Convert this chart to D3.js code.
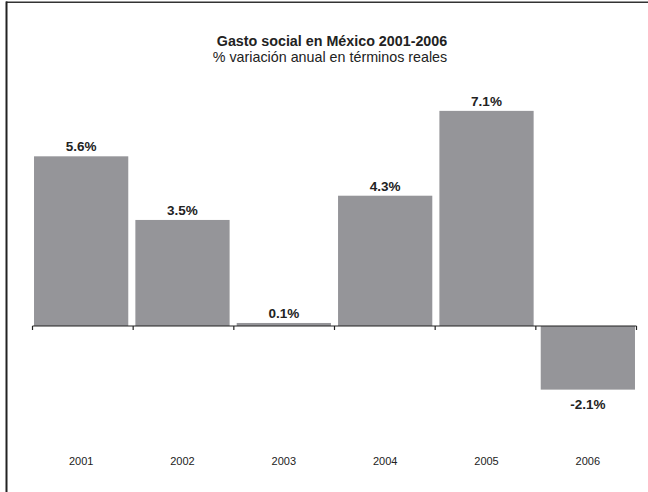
<!DOCTYPE html>
<html>
<head>
  <meta charset="utf-8">
  <script src="https://cdn.jsdelivr.net/npm/d3@7"></script>
  <style>
    body { margin: 0; background: #fff; }
    text { font-family: "Liberation Sans", Arial, sans-serif; fill: #222; }
  </style>
</head>
<body>
  <svg id="chart" width="648" height="492"></svg>
  <script>
    const years = ["2001", "2002", "2003", "2004", "2005", "2006"]
    const values = [5.6, 3.5, 0.1, 4.3, 7.1, -2.1]
    const labels = ["5.6%", "3.5%", "0.1%", "4.3%", "7.1%", "-2.1%"]

    const svg = d3.select("#chart")

    // frame: only the top and left edges show
    svg.append("line").attr("x1", 6).attr("x2", 648).attr("y1", 2.2).attr("y2", 2.2)
       .attr("stroke", "#333").attr("stroke-width", 1.5)
    svg.append("line").attr("x1", 6.5).attr("x2", 6.5).attr("y1", 1.5).attr("y2", 492)
       .attr("stroke", "#222").attr("stroke-width", 2)

    svg.append("text").attr("x", 332).attr("y", 46).attr("text-anchor", "middle")
       .style("font-size", "14.3px").style("font-weight", "bold")
       .text("Gasto social en México 2001-2006")
    svg.append("text").attr("x", 330).attr("y", 61.5).attr("text-anchor", "middle")
       .style("font-size", "14.3px")
       .text("% variación anual en términos reales")

    const x = d3.scaleBand()
                .domain(years)
                .range([32.5, 636.5])
                .paddingInner(0.07)
                .paddingOuter(0.015)

    // category edges for the tick marks
    const xEdge = d3.scaleBand()
                    .domain(years)
                    .range([32.5, 636.5])

    const y = d3.scaleLinear()
                .domain([-4, 8])
                .range([447.2, 83.6])

    svg.selectAll("rect.bar")
       .data(years)
       .enter()
       .append("rect")
       .attr("class", "bar")
       .attr("x", d => x(d))
       .attr("width", x.bandwidth())
       .attr("y", (d, i) => y(Math.max(0, values[i])))
       .attr("height", (d, i) => Math.abs(y(values[i]) - y(0)))
       .attr("fill", "#959599")

    svg.selectAll("text.val")
       .data(years)
       .enter()
       .append("text")
       .attr("class", "val")
       .attr("x", d => x(d) + x.bandwidth() / 2)
       .attr("y", (d, i) => values[i] >= 0 ? y(values[i]) - 5 : y(values[i]) + 19)
       .attr("text-anchor", "middle")
       .style("font-size", "13.5px")
       .style("font-weight", "bold")
       .text((d, i) => labels[i])

    const zero = y(0)
    svg.append("line").attr("x1", 32.5).attr("x2", 636.5)
       .attr("y1", zero).attr("y2", zero)
       .attr("stroke", "#222").attr("stroke-width", 1.2)
    const edges = years.map(d => xEdge(d)).concat([636.5])
    svg.selectAll("line.tick")
       .data(edges)
       .enter()
       .append("line")
       .attr("class", "tick")
       .attr("x1", d => d).attr("x2", d => d)
       .attr("y1", zero).attr("y2", zero + 4)
       .attr("stroke", "#222").attr("stroke-width", 1.2)

    svg.selectAll("text.cat")
       .data(years)
       .enter()
       .append("text")
       .attr("class", "cat")
       .attr("x", d => x(d) + x.bandwidth() / 2)
       .attr("y", 465)
       .attr("text-anchor", "middle")
       .style("font-size", "11px")
       .text(d => d)
  </script>
</body>
</html>
